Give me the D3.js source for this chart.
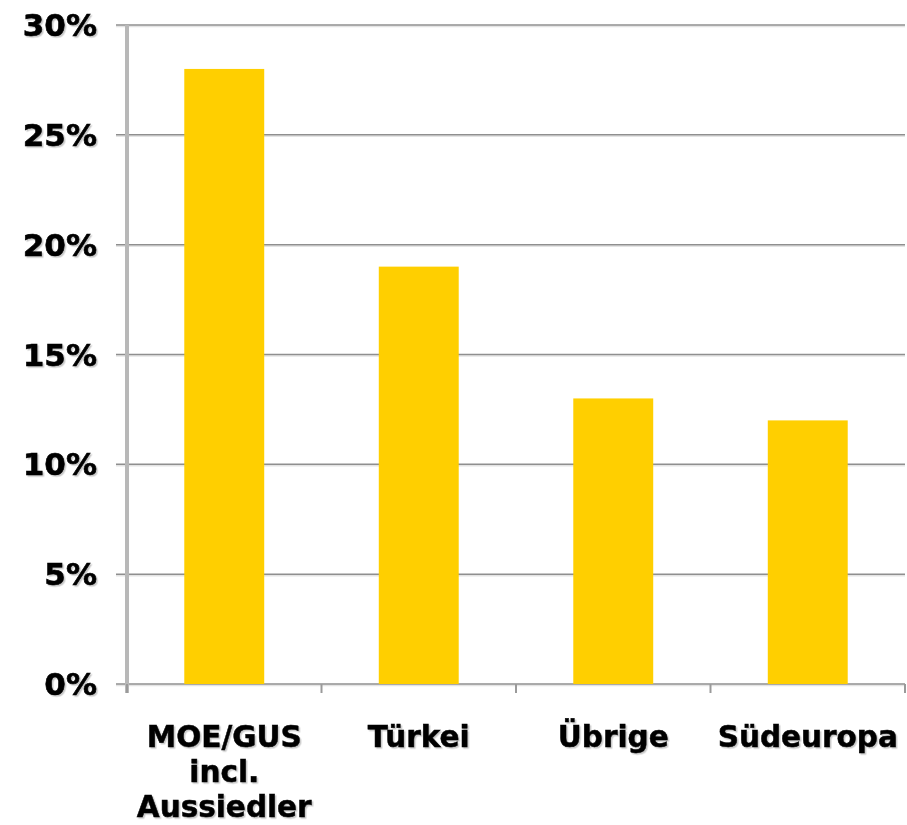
<!DOCTYPE html>
<html><head><meta charset="utf-8">
<script src="https://cdn.jsdelivr.net/npm/d3@7"></script>
<style>html,body{margin:0;padding:0;background:#fff;}</style>
</head><body>
<svg id="c" width="907" height="825"></svg>
<script>
const categories = [["MOE/GUS","incl.","Aussiedler"],["Türkei"],["Übrige"],["Südeuropa"]];
const values = [28, 19, 13, 12];
const yTicks = [0, 5, 10, 15, 20, 25, 30];

(function () {
const svg = d3.select("#c");
const defs = svg.append("defs");
defs.append("filter").attr("id", "sh").attr("x", "-10%").attr("y", "-20%").attr("width", "130%").attr("height", "150%")
  .append("feDropShadow").attr("dx", 1.5).attr("dy", 1.5).attr("stdDeviation", 0.6)
  .attr("flood-color", "#000").attr("flood-opacity", 0.22);

const mLeft = 127, mRight = 905, mTop = 25, mBottom = 684;
const x = d3.scaleBand().domain(d3.range(categories.length)).range([mLeft, mRight]).paddingInner(0.589).paddingOuter(0.2945);
const y = d3.scaleLinear().domain([0, 30]).range([mBottom, mTop]);

// gridlines
const grid = svg.append("g");
yTicks.forEach(t => {
  grid.append("line").attr("x1", mLeft - 11).attr("x2", mRight).attr("y1", y(t) + 1.5).attr("y2", y(t) + 1.5)
    .attr("stroke", "#e4e4e4").attr("stroke-width", 1.5);
  grid.append("line").attr("x1", mLeft - 11).attr("x2", mRight).attr("y1", y(t)).attr("y2", y(t))
    .attr("stroke", "#8f8f8f").attr("stroke-width", 1.5);
});

// y axis line
svg.append("line").attr("x1", mLeft).attr("x2", mLeft).attr("y1", mTop).attr("y2", mBottom + 9)
  .attr("stroke", "#b8b8b8").attr("stroke-width", 4);

// x axis ticks
const step = x.step();
d3.range(categories.length + 1).forEach(i => {
  const xx = mLeft + i * step;
  svg.append("line").attr("x1", xx).attr("x2", xx).attr("y1", mBottom).attr("y2", mBottom + 9)
    .attr("stroke", "#9a9a9a").attr("stroke-width", 2);
});

// bars
svg.append("g").selectAll("rect").data(values).join("rect")
  .attr("x", (d, i) => x(i)).attr("width", x.bandwidth())
  .attr("y", d => y(d)).attr("height", d => mBottom - y(d))
  .attr("fill", "#ffcf00");

// y labels
svg.append("g").attr("filter", "url(#sh)").selectAll("text").data(yTicks).join("text")
  .attr("x", 97).attr("y", d => y(d) + 11)
  .attr("text-anchor", "end")
  .attr("font-family", "'DejaVu Sans', Verdana, sans-serif").attr("font-weight", "bold")
  .attr("font-size", 31).attr("fill", "#000")
  .attr("stroke", "#000").attr("stroke-width", 0.6)
  .text(d => d + "%");

// x labels
const xl = svg.append("g").attr("filter", "url(#sh)");
categories.forEach((lines, i) => {
  const cx = x(i) + x.bandwidth() / 2;
  lines.forEach((ln, j) => {
    xl.append("text").attr("text-anchor", "middle")
      .attr("x", cx).attr("y", 747 + j * 35)
      .attr("font-family", "'DejaVu Sans', Verdana, sans-serif").attr("font-weight", "bold")
      .attr("font-size", 29.5).attr("fill", "#000")
      .attr("stroke", "#000").attr("stroke-width", 0.5)
      .text(ln);
  });
});
})();
</script>
</body></html>
